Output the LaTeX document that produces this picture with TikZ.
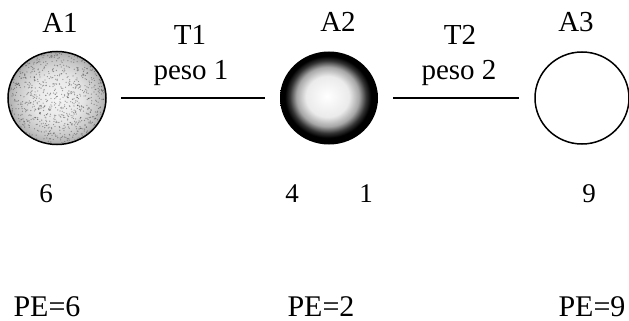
\documentclass[tikz,border=0pt]{standalone}
\usepackage{fontspec}
\setmainfont{Liberation Serif}
\usetikzlibrary{shapes.geometric}

% grey grain for the first site, bright centre with dark rim for the second
% (the path's box spans the inner 50bp square of a shading, so the rim sits at 25bp)
\pgfdeclareradialshading{grainfill}{\pgfpoint{0bp}{0bp}}{color(0bp)=(gray!8); color(13bp)=(gray!20); color(21bp)=(gray!45); color(25bp)=(gray!65); color(50bp)=(gray!65)}
\pgfdeclareradialshading{rimfill}{\pgfpoint{-1bp}{1bp}}{color(0bp)=(white); color(11bp)=(white!92!black); color(16bp)=(white!65!black); color(19.5bp)=(black!80); color(22bp)=(black); color(50bp)=(black)}

\begin{document}
\begin{tikzpicture}[x=1pt,y=-1pt,
  site/.style={ellipse, inner sep=0pt, minimum width=98pt, minimum height=93pt},
  link/.style={line width=1.6pt, shorten <=15pt, shorten >=15pt},
  lbl/.style={font=\fontsize{29}{32}\selectfont, anchor=base, inner sep=0pt},
  num/.style={font=\fontsize{27}{30}\selectfont, anchor=base, inner sep=0pt},
  pe/.style={font=\fontsize{30}{32}\selectfont, anchor=base, inner sep=0pt}]
\useasboundingbox (0,0) rectangle (629,321);

% the three sites
\node[site, shading=grainfill] (a1) at (57,98) {};
\begin{scope}
  \clip (57,98) ellipse [x radius=48, y radius=45];
  \pgfmathsetseed{7}
  \foreach \i in {1,...,1000}{
    \pgfmathsetmacro\px{57+48*rand}
    \pgfmathsetmacro\py{98+45*rand}
    \fill[gray!40!black, opacity=0.45] (\px,\py) circle (0.65);
  }
\end{scope}
\draw[line width=1.5pt] (a1.center) ellipse [x radius=49, y radius=46.5];

\node[site, shading=rimfill] (a2) at (329,98) {};
\node[site, draw, line width=1.5pt, minimum width=94pt, minimum height=92pt] (a3) at (582,98) {};

% connectors between sites
\draw[link] (a1) -- (a2);
\draw[link] (a2) -- (a3);

% names above the sites and the links
\node[lbl] (n1) at (60,33) {A1};
\node[lbl] (n2) at (338,32) {A2};
\node[lbl] (n3) at (576,32) {A3};
\node[lbl] (t1) at (190,45) {T1};
\node[lbl] (w1) at (191,80) {peso 1};
\node[lbl] (t2) at (460,45) {T2};
\node[lbl] (w2) at (459,80) {peso 2};

% values under the sites
\node[num] (v1) at (46,202) {6};
\node[num] (v2) at (292,202) {4};
\node[num] (v3) at (366,202) {1};
\node[num] (v4) at (589,202) {9};

\node[pe] (p1) at (47,316) {PE=6};
\node[pe] (p2) at (321,316) {PE=2};
\node[pe] (p3) at (592,316) {PE=9};
\end{tikzpicture}
\end{document}
